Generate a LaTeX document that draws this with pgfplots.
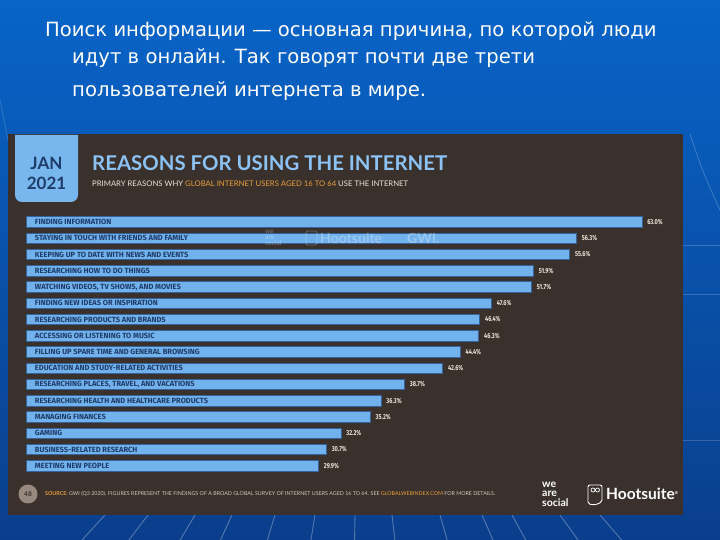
\documentclass[border=0pt]{standalone}
\usepackage{fontspec}
\usepackage{pgfplots}
\pgfplotsset{compat=1.18}
\newfontfamily\topfont{DejaVu Sans}
\newfontfamily\headfont{Lato}
\newfontfamily\catfont{Fira Sans}
\newfontfamily\numfont[FakeStretch=0.78]{Fira Sans}
\definecolor{bgtop}{RGB}{8,100,200}
\definecolor{bgbot}{RGB}{10,62,140}
\definecolor{panel}{RGB}{58,48,44}
\definecolor{barblue}{RGB}{114,178,236}
\definecolor{bardark}{RGB}{52,100,155}
\definecolor{navy}{RGB}{30,60,105}
\definecolor{titleblue}{RGB}{140,195,245}
\definecolor{janblue}{RGB}{120,182,238}
\definecolor{orangec}{RGB}{232,160,60}
\definecolor{valc}{RGB}{236,228,218}
\definecolor{wm}{RGB}{92,84,80}
\definecolor{circc}{RGB}{150,138,128}
\begin{document}
\begin{tikzpicture}
\useasboundingbox (0pt,0pt) rectangle (720pt,540pt);
\fill[top color=bgtop, bottom color=bgbot] (0pt,0pt) rectangle (720pt,540pt);
\begin{scope}[x=1pt,y=1pt]
% faint rays at the bottom
\foreach \xa in {105,148,195,232,275,315,355,392,440,482,512,560,600}{
  \draw[white, opacity=0.3, line width=0.9pt] (\xa,25) -- ({\xa+(\xa-360)*0.09},0);
}
\draw[white, opacity=0.18, line width=0.8pt] (683,295) -- (720,295);
\draw[white, opacity=0.18, line width=0.8pt] (683,246) -- (720,246);
\draw[white, opacity=0.18, line width=0.8pt] (683,100) -- (720,100);
\draw[white, opacity=0.22, line width=0.8pt] (690,406) .. controls (702,370) .. (720,330);
\draw[white, opacity=0.15, line width=0.8pt] (0,440) -- (8,400);
% top text
\node[anchor=base west, inner sep=0pt, text=white, font=\topfont\fontsize{19.6}{22}\selectfont] at (45,503) {Поиск информации — основная причина, по которой люди};
\node[anchor=base west, inner sep=0pt, text=white, font=\topfont\fontsize{19.6}{22}\selectfont] at (72,476) {идут в онлайн. Так говорят почти две трети};
\node[anchor=base west, inner sep=0pt, text=white, font=\topfont\fontsize{19.6}{22}\selectfont] at (72,443) {пользователей интернета в мире.};
% panel
\fill[panel] (8,25) rectangle (683,406);
% JAN box
\fill[janblue] (15,405) -- (15,345) arc[start angle=180, end angle=270, radius=7] -- (71,338) arc[start angle=270, end angle=360, radius=7] -- (78,405) -- cycle;
\node[text=navy, font=\headfont\bfseries\fontsize{17}{17}\selectfont, inner sep=0pt] at (46.5,377) {JAN};
\node[text=navy, font=\headfont\bfseries\fontsize{17}{17}\selectfont, inner sep=0pt] at (46.5,357) {2021};
% title
\node[anchor=west, inner sep=0pt, text=titleblue] at (92,377) {\resizebox{355pt}{!}{\headfont\bfseries REASONS FOR USING THE INTERNET}};
\node[anchor=west, inner sep=0pt] at (92,356) {\resizebox{316pt}{!}{\headfont\color{valc}PRIMARY REASONS WHY \textcolor{orangec}{GLOBAL INTERNET USERS AGED 16 TO 64} USE THE INTERNET}};
% footer
\fill[circc] (28,46) circle (9.5);
\node[text=panel, font=\headfont\bfseries\fontsize{6.5}{6.5}\selectfont, inner sep=0pt] at (28,46) {48};
\node[anchor=west, inner sep=0pt] at (45,46) {\resizebox{450pt}{!}{\headfont\color{valc!85!panel}\textcolor{orangec}{\bfseries SOURCE:} GWI (Q3 2020). FIGURES REPRESENT THE FINDINGS OF A BROAD GLOBAL SURVEY OF INTERNET USERS AGED 16 TO 64. SEE \textcolor{orangec}{GLOBALWEBINDEX.COM} FOR MORE DETAILS.}};
\node[anchor=west, text=white, font=\headfont\bfseries\fontsize{10.5}{9.6}\selectfont, align=left, inner sep=0pt] at (542,46) {we\\are\\social};
\draw[white, line width=0.9pt, rounded corners=2pt] (588,36) -- (588,55) -- (602,55) -- (602,38) -- (595,35) -- cycle;
\draw[white, line width=0.7pt] (593,50) circle (2) (597.5,50) circle (2);
\node[anchor=west, text=white, font=\headfont\bfseries\fontsize{15.5}{15}\selectfont, inner sep=0pt] at (606,46) {Hootsuite\raisebox{5pt}{\fontsize{4}{4}\selectfont®}};
\end{scope}
% chart
\begin{axis}[
  at={(26.5pt,66.1pt)}, anchor=south west,
  width=615.5pt, height=260pt, scale only axis,
  xbar, bar width=10.5pt,
  xmin=0, xmax=63, ymin=-0.5, ymax=15.5,
  axis line style={draw=none}, tick style={draw=none},
  axis on top,
  xtick=\empty,
  ytick={0,...,15},
  yticklabels={MEETING NEW PEOPLE, BUSINESS-RELATED RESEARCH, GAMING, MANAGING FINANCES, RESEARCHING HEALTH AND HEALTHCARE PRODUCTS, {RESEARCHING PLACES, TRAVEL, AND VACATIONS}, EDUCATION AND STUDY-RELATED ACTIVITIES, FILLING UP SPARE TIME AND GENERAL BROWSING, ACCESSING OR LISTENING TO MUSIC, RESEARCHING PRODUCTS AND BRANDS, FINDING NEW IDEAS OR INSPIRATION, {WATCHING VIDEOS, TV SHOWS, AND MOVIES}, RESEARCHING HOW TO DO THINGS, KEEPING UP TO DATE WITH NEWS AND EVENTS, STAYING IN TOUCH WITH FRIENDS AND FAMILY, FINDING INFORMATION},
  yticklabel style={anchor=west, inner sep=0pt, xshift=12.5pt, text=navy, font=\catfont\bfseries\fontsize{7.5}{7.5}\selectfont},
  /pgf/number format/assume math mode=true,
  nodes near coords={\pgfmathprintnumber[fixed, fixed zerofill, precision=1, assume math mode=true]{\pgfplotspointmeta}\%},
  every node near coord/.append style={anchor=west, inner sep=0pt, xshift=5pt, text=valc, font=\numfont\bfseries\fontsize{7.2}{7.2}\selectfont},
  clip=false,
]
\addplot[fill=barblue, draw=bardark, line width=0.7pt] coordinates {
(29.9,0) (30.7,1) (32.2,2) (35.2,3) (36.3,4) (38.7,5) (42.6,6) (44.4,7)
(46.3,8) (46.4,9) (47.6,10) (51.7,11) (51.9,12) (55.6,13) (56.3,14) (63.0,15)};
\end{axis}
% watermark over the bars
\begin{scope}[x=1pt,y=1pt]
\node[anchor=west, text=white, opacity=0.28, font=\headfont\bfseries\fontsize{6.5}{5.8}\selectfont, align=left, inner sep=0pt] at (265,302) {we\\are\\social};
\draw[white, opacity=0.28, line width=0.8pt, rounded corners=1.5pt] (306,295) rectangle (317,309);
\node[anchor=west, text=white, opacity=0.28, font=\headfont\bfseries\fontsize{14}{14}\selectfont, inner sep=0pt] at (320,302) {Hootsuite};
\node[anchor=west, text=white, opacity=0.28, font=\headfont\bfseries\fontsize{14}{14}\selectfont, inner sep=0pt] at (407,302) {GWI.};
\end{scope}
\end{tikzpicture}
\end{document}
